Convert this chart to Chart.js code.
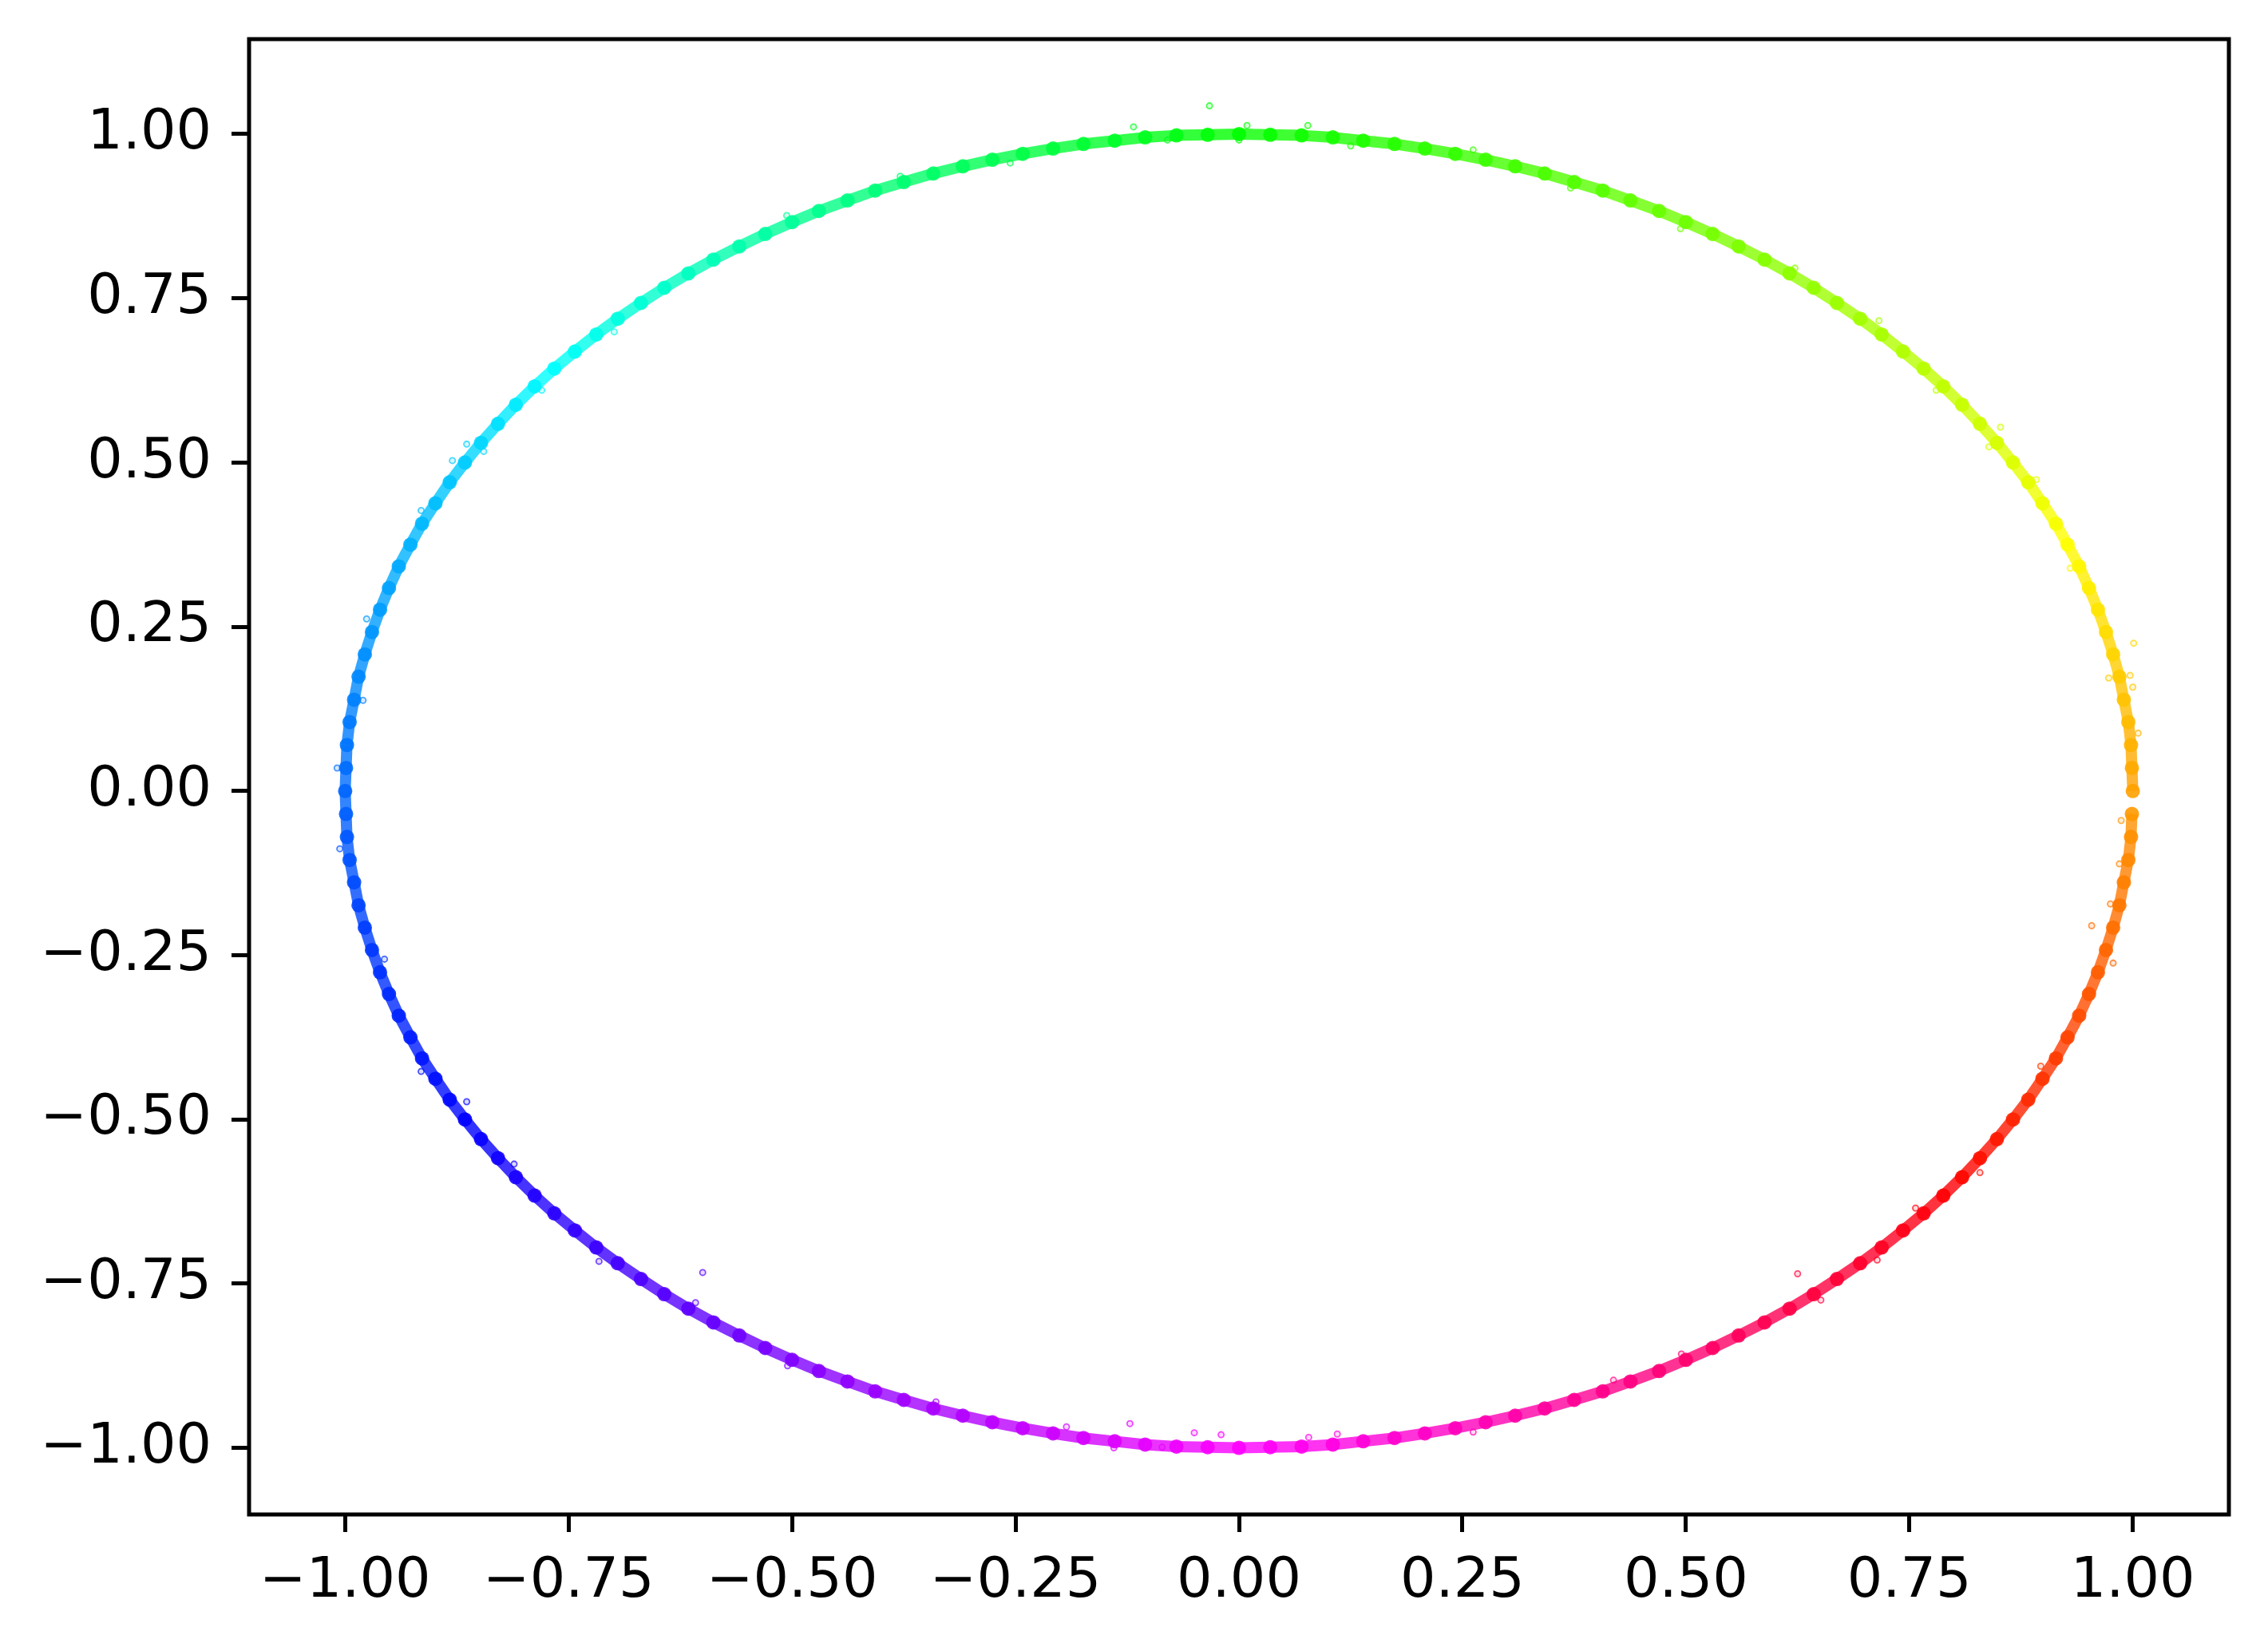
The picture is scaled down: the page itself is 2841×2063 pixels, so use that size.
<!DOCTYPE html>
<html>
<head>
<meta charset="utf-8">
<script src="https://cdn.jsdelivr.net/npm/chart.js@4.4.0/dist/chart.umd.min.js"></script>
<style>
html, body { margin: 0; padding: 0; background: #fff; }
#grafico { display: block; }
</style>
</head>
<body>
<canvas id="grafico" width="2841" height="2063"></canvas>
<script>
// tick labels
var xTicks = [-1.00, -0.75, -0.50, -0.25, 0.00, 0.25, 0.50, 0.75, 1.00];
var yTicks = [-1.00, -0.75, -0.50, -0.25, 0.00, 0.25, 0.50, 0.75, 1.00];

// main band of points, read around the ring (counter-clockwise from the right)
var anelX = [
  1.000, 0.999, 0.998, 0.995, 0.990, 0.985, 0.978, 0.970, 0.961, 0.951, 0.940, 0.927, 0.914, 0.899, 0.883,
  0.866, 0.848, 0.829, 0.809, 0.788, 0.766, 0.743, 0.719, 0.695, 0.669, 0.643, 0.616, 0.588, 0.559, 0.530,
  0.500, 0.470, 0.438, 0.407, 0.375, 0.342, 0.309, 0.276, 0.242, 0.208, 0.174, 0.139, 0.105, 0.070, 0.035,
  0.000, -0.035, -0.070, -0.105, -0.139, -0.174, -0.208, -0.242, -0.276, -0.309, -0.342, -0.375, -0.407, -0.438, -0.470,
  -0.500, -0.530, -0.559, -0.588, -0.616, -0.643, -0.669, -0.695, -0.719, -0.743, -0.766, -0.788, -0.809, -0.829, -0.848,
  -0.866, -0.883, -0.899, -0.914, -0.927, -0.940, -0.951, -0.961, -0.970, -0.978, -0.985, -0.990, -0.995, -0.998, -0.999,
  -1.000, -0.999, -0.998, -0.995, -0.990, -0.985, -0.978, -0.970, -0.961, -0.951, -0.940, -0.927, -0.914, -0.899, -0.883,
  -0.866, -0.848, -0.829, -0.809, -0.788, -0.766, -0.743, -0.719, -0.695, -0.669, -0.643, -0.616, -0.588, -0.559, -0.530,
  -0.500, -0.470, -0.438, -0.407, -0.375, -0.342, -0.309, -0.276, -0.242, -0.208, -0.174, -0.139, -0.105, -0.070, -0.035,
  0.000, 0.035, 0.070, 0.105, 0.139, 0.174, 0.208, 0.242, 0.276, 0.309, 0.342, 0.375, 0.407, 0.438, 0.470,
  0.500, 0.530, 0.559, 0.588, 0.616, 0.643, 0.669, 0.695, 0.719, 0.743, 0.766, 0.788, 0.809, 0.829, 0.848,
  0.866, 0.883, 0.899, 0.914, 0.927, 0.940, 0.951, 0.961, 0.970, 0.978, 0.985, 0.990, 0.995, 0.998, 0.999
];
var anelY = [
  0.000, 0.035, 0.070, 0.105, 0.139, 0.174, 0.208, 0.242, 0.276, 0.309, 0.342, 0.375, 0.407, 0.438, 0.470,
  0.500, 0.530, 0.559, 0.588, 0.616, 0.643, 0.669, 0.695, 0.719, 0.743, 0.766, 0.788, 0.809, 0.829, 0.848,
  0.866, 0.883, 0.899, 0.914, 0.927, 0.940, 0.951, 0.961, 0.970, 0.978, 0.985, 0.990, 0.995, 0.998, 0.999,
  1.000, 0.999, 0.998, 0.995, 0.990, 0.985, 0.978, 0.970, 0.961, 0.951, 0.940, 0.927, 0.914, 0.899, 0.883,
  0.866, 0.848, 0.829, 0.809, 0.788, 0.766, 0.743, 0.719, 0.695, 0.669, 0.643, 0.616, 0.588, 0.559, 0.530,
  0.500, 0.470, 0.438, 0.407, 0.375, 0.342, 0.309, 0.276, 0.242, 0.208, 0.174, 0.139, 0.105, 0.070, 0.035,
  0.000, -0.035, -0.070, -0.105, -0.139, -0.174, -0.208, -0.242, -0.276, -0.309, -0.342, -0.375, -0.407, -0.438, -0.470,
  -0.500, -0.530, -0.559, -0.588, -0.616, -0.643, -0.669, -0.695, -0.719, -0.743, -0.766, -0.788, -0.809, -0.829, -0.848,
  -0.866, -0.883, -0.899, -0.914, -0.927, -0.940, -0.951, -0.961, -0.970, -0.978, -0.985, -0.990, -0.995, -0.998, -0.999,
  -1.000, -0.999, -0.998, -0.995, -0.990, -0.985, -0.978, -0.970, -0.961, -0.951, -0.940, -0.927, -0.914, -0.899, -0.883,
  -0.866, -0.848, -0.829, -0.809, -0.788, -0.766, -0.743, -0.719, -0.695, -0.669, -0.643, -0.616, -0.588, -0.559, -0.530,
  -0.500, -0.470, -0.438, -0.407, -0.375, -0.342, -0.309, -0.276, -0.242, -0.208, -0.174, -0.139, -0.105, -0.070, -0.035
];

// loose points around the band and the few strays
var soltosX = [
  -0.033, -0.600, 0.954, 1.001, 1.000, -0.122, -0.050, -0.020, 0.625, 0.987, 0.985,
  -0.864, -0.880, -0.845, -0.864, 0.839, 0.852,
  -0.118, -0.080, 0.000, 0.009, 0.077, 0.125,
  -0.193, -0.086, 0.078, 0.110,
  0.997, 0.973, 0.716, 0.494, 0.262, -0.256, -0.506, -0.699, -0.976, -0.980,
  -1.006, -0.956, -0.716, -0.608, -0.505, -0.339, 0.262, 0.495, 0.651, 0.757,
  0.829, 0.897, 0.978, 0.975, 1.006, 0.930, 0.892, 0.780, 0.622, 0.371,
  -0.379, -0.780, -0.915, -1.009, -0.915, -0.811, -0.140, 0.419, 0.714
];
var soltosY = [
  1.043, -0.733, -0.205, 0.225, 0.158, -0.963, -0.977, -0.980, -0.735, -0.045, -0.111,
  0.528, 0.503, 0.517, -0.473, 0.524, 0.554,
  1.011, 0.991, 0.991, 1.013, 1.013, 0.982,
  -0.968, -0.999, -0.984, -0.979,
  0.176, 0.172, 0.716, 0.856, 0.976, 0.956, 0.876, 0.699, 0.262, 0.138,
  -0.088, -0.256, -0.716, -0.779, -0.875, -0.930, -0.976, -0.857, -0.775, -0.635,
  -0.581, -0.419, -0.262, -0.172, 0.088, 0.339, 0.474, 0.610, 0.796, 0.918,
  0.936, 0.610, 0.427, 0.035, -0.427, -0.568, -1.000, -0.897, -0.714
];

// colour follows the angle of the point (hsv-like colormap)
var angCor = [-90, -30, 0, 30, 90, 150, 210, 270];
var matizCor = [-60, 8, 38, 68, 120, 192, 240, 300];

function corDoPonto(x, y, alfa) {
    var a = Math.atan2(y, x) * 180 / Math.PI;
    if (a < -90) a += 360;
    var h = matizCor[0];
    for (var i = 0; i < angCor.length - 1; i++) {
        if (a >= angCor[i] && a <= angCor[i + 1]) {
            var t = (a - angCor[i]) / (angCor[i + 1] - angCor[i]);
            h = matizCor[i] + t * (matizCor[i + 1] - matizCor[i]);
            break;
        }
    }
    h = (h + 360) % 360;
    return 'hsla(' + h.toFixed(1) + ',100%,50%,' + alfa + ')';
}

function formataTick(v) {
    return v.toFixed(2).replace('-', '\u2212');
}

var moldura = {
    id: 'moldura',
    afterDraw: function(chart) {
        var c = chart.ctx, a = chart.chartArea;
        c.save();
        c.strokeStyle = '#000';
        c.lineWidth = 5;
        c.strokeRect(a.left, a.top, a.right - a.left, a.bottom - a.top);
        c.restore();
    }
};

var fonteTick = { family: 'DejaVu Sans', size: 70 };

new Chart(document.getElementById('grafico'), {
    type: 'scatter',
    data: {
        datasets: [
            {
                label: 'soltos',
                data: soltosX.map(function(x, i) { return { x: x, y: soltosY[i] }; }),
                pointRadius: 3.6,
                pointBorderWidth: 1.8,
                pointBackgroundColor: function(ctx) { return corDoPonto(ctx.raw.x, ctx.raw.y, 0.15); },
                pointBorderColor: function(ctx) { return corDoPonto(ctx.raw.x, ctx.raw.y, 0.7); }
            },
            {
                label: 'anel',
                data: anelX.map(function(x, i) { return { x: x, y: anelY[i] }; }),
                showLine: true,
                tension: 0,
                borderWidth: 14,
                borderColor: 'rgba(0,0,0,0)',
                segment: {
                    borderColor: function(ctx) { return corDoPonto(ctx.p0.parsed.x, ctx.p0.parsed.y, 0.8); }
                },
                pointRadius: 9,
                pointBorderWidth: 0,
                pointBackgroundColor: function(ctx) { return corDoPonto(ctx.raw.x, ctx.raw.y, 0.9); }
            }
        ]
    },
    options: {
        responsive: false,
        animation: false,
        layout: { padding: { top: 49, right: 49, left: 0, bottom: 0 } },
        plugins: { legend: { display: false }, tooltip: { enabled: false } },
        scales: {
            x: {
                type: 'linear',
                min: -1.1075,
                max: 1.1075,
                afterBuildTicks: function(s) { s.ticks = xTicks.map(function(v) { return { value: v }; }); },
                afterFit: function(s) { s.height = 166; s.paddingLeft = 0; s.paddingRight = 0; },
                border: { display: false },
                grid: { drawOnChartArea: false, tickLength: 22, tickWidth: 5, tickColor: '#000', color: '#000' },
                ticks: { callback: formataTick, font: fonteTick, color: '#000', padding: 21, maxRotation: 0, autoSkip: false }
            },
            y: {
                type: 'linear',
                min: -1.1014,
                max: 1.1446,
                afterBuildTicks: function(s) { s.ticks = yTicks.map(function(v) { return { value: v }; }); },
                afterFit: function(s) { s.width = 312; s.paddingTop = 0; s.paddingBottom = 0; },
                border: { display: false },
                grid: { drawOnChartArea: false, tickLength: 22, tickWidth: 5, tickColor: '#000', color: '#000' },
                ticks: { callback: formataTick, font: fonteTick, color: '#000', padding: 25, autoSkip: false }
            }
        }
    },
    plugins: [moldura]
});
</script>
</body>
</html>
